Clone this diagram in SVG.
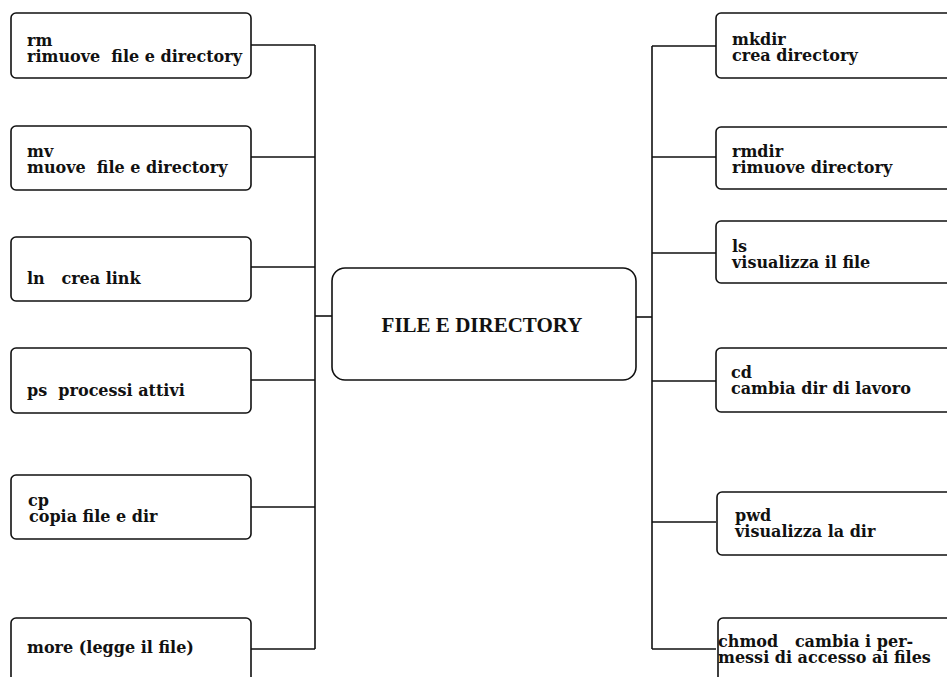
<svg xmlns="http://www.w3.org/2000/svg" width="947" height="677" viewBox="0 0 947 677">
  <style>
    .box { fill: #fff; stroke: #111; stroke-width: 1.6; }
    .lbl { font-family: "DejaVu Serif", "Liberation Serif", serif; font-weight: bold; font-size: 16px; fill: #111; }
    .title { font-family: "Liberation Serif", "DejaVu Serif", serif; font-weight: bold; font-size: 21px; fill: #111; }
    .wire { fill: none; stroke: #111; stroke-width: 1.6; }
  </style>
  <rect width="947" height="677" fill="#fff"/>

  <!-- connectors -->
  <g id="connectors">
    <!-- left trunk -->
    <path class="wire" d="M315,45 V649"/>
    <path class="wire" d="M251,45 H315 M251,157 H315 M251,267 H315 M251,380 H315 M251,507 H315 M251,649 H315"/>
    <path class="wire" d="M315,316 H332"/>
    <!-- right trunk -->
    <path class="wire" d="M652,46 V649"/>
    <path class="wire" d="M652,46 H716 M652,157 H716 M652,253 H716 M652,381 H716 M652,522 H716 M652,649 H716"/>
    <path class="wire" d="M636,317 H652"/>
  </g>

  <!-- centre -->
  <g id="file-e-directory">
    <rect class="box" x="332" y="268" width="304" height="112" rx="13"/>
    <text class="title" x="482" y="332" text-anchor="middle">FILE E DIRECTORY</text>
  </g>

  <!-- left column -->
  <g id="rm">
    <rect class="box" x="11" y="13" width="240" height="65" rx="5"/>
    <text class="lbl" xml:space="preserve"><tspan x="27" y="46">rm</tspan><tspan x="27" y="62">rimuove  file e directory</tspan></text>
  </g>
  <g id="mv">
    <rect class="box" x="11" y="126" width="240" height="64" rx="5"/>
    <text class="lbl" xml:space="preserve"><tspan x="27" y="157">mv</tspan><tspan x="27" y="173">muove  file e directory</tspan></text>
  </g>
  <g id="ln">
    <rect class="box" x="11" y="237" width="240" height="64" rx="5"/>
    <text class="lbl" x="27" y="284" xml:space="preserve">ln   crea link</text>
  </g>
  <g id="ps">
    <rect class="box" x="11" y="348" width="240" height="65" rx="5"/>
    <text class="lbl" x="27" y="396" xml:space="preserve">ps  processi attivi</text>
  </g>
  <g id="cp">
    <rect class="box" x="11" y="475" width="240" height="64" rx="5"/>
    <text class="lbl"><tspan x="28" y="506">cp</tspan><tspan x="29" y="522">copia file e dir</tspan></text>
  </g>
  <g id="more">
    <rect class="box" x="11" y="618" width="240" height="80" rx="5"/>
    <text class="lbl" x="27" y="653">more (legge il file)</text>
  </g>

  <!-- right column -->
  <g id="mkdir">
    <rect class="box" x="716" y="13" width="250" height="65" rx="5"/>
    <text class="lbl"><tspan x="732" y="45">mkdir</tspan><tspan x="732" y="61">crea directory</tspan></text>
  </g>
  <g id="rmdir">
    <rect class="box" x="716" y="127" width="250" height="62" rx="5"/>
    <text class="lbl"><tspan x="732" y="157">rmdir</tspan><tspan x="732" y="173">rimuove directory</tspan></text>
  </g>
  <g id="ls">
    <rect class="box" x="716" y="221" width="250" height="62" rx="5"/>
    <text class="lbl"><tspan x="732" y="252">ls</tspan><tspan x="732" y="268">visualizza il file</tspan></text>
  </g>
  <g id="cd">
    <rect class="box" x="716" y="348" width="250" height="64" rx="5"/>
    <text class="lbl"><tspan x="731" y="378">cd</tspan><tspan x="731" y="394">cambia dir di lavoro</tspan></text>
  </g>
  <g id="pwd">
    <rect class="box" x="717" y="492" width="250" height="63" rx="5"/>
    <text class="lbl"><tspan x="735" y="521">pwd</tspan><tspan x="735" y="537">visualizza la dir</tspan></text>
  </g>
  <g id="chmod">
    <rect class="box" x="718" y="618" width="250" height="80" rx="5"/>
    <text class="lbl" xml:space="preserve"><tspan x="718" y="647">chmod   cambia i per-</tspan><tspan x="718" y="663">messi di accesso ai files</tspan></text>
  </g>
</svg>
